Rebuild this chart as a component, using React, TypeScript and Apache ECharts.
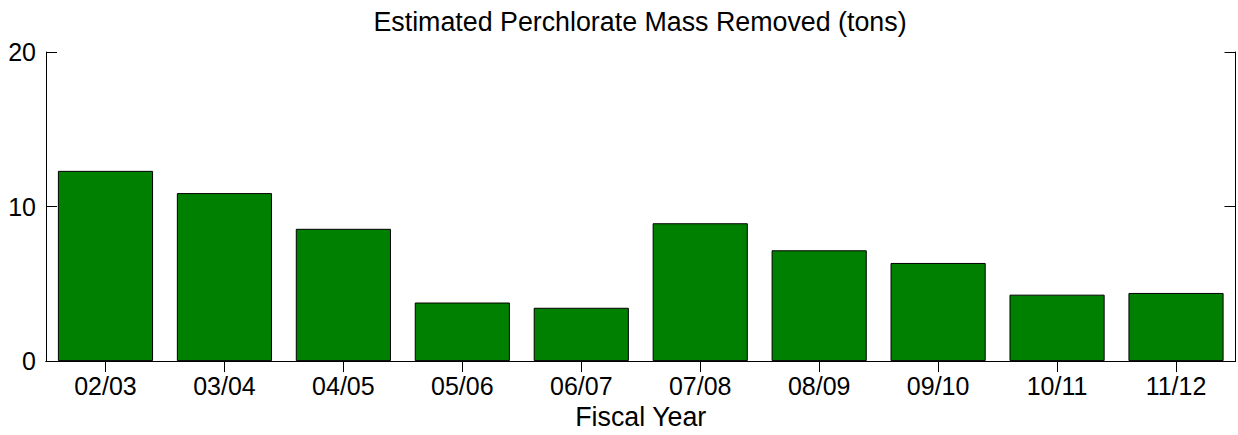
import React, { useEffect, useRef } from "react";
import * as echarts from "echarts";

const categories = ["02/03", "03/04", "04/05", "05/06", "06/07", "07/08", "08/09", "09/10", "10/11", "11/12"];
const massRemoved = [12.31, 10.87, 8.56, 3.79, 3.45, 8.92, 7.17, 6.35, 4.3, 4.41];
const titleText = "Estimated Perchlorate Mass Removed (tons)";
const xAxisName = "Fiscal Year";

const FONT = "Liberation Sans, Arial, sans-serif";

export default function App() {
  const ref = useRef<HTMLDivElement>(null);
  useEffect(() => {
    if (!ref.current) return;
    const chart = echarts.init(ref.current, null, { renderer: "svg" });
    chart.setOption({
      animation: false,
      backgroundColor: "#ffffff",
      graphic: [
        {
          type: "text",
          x: 640,
          y: 22,
          style: {
            text: titleText,
            fontFamily: FONT,
            fontSize: 26.8,
            fill: "#000",
            align: "center",
            verticalAlign: "middle",
          },
        },
      ],
      grid: { left: 46, right: 2.5, top: 52, bottom: 71.3, containLabel: false },
      xAxis: [
        {
          type: "category",
          data: categories,
          position: "bottom",
          name: xAxisName,
          nameLocation: "middle",
          nameGap: 41.5,
          nameTextStyle: { fontFamily: FONT, fontSize: 26.8, color: "#000" },
          axisLine: { show: true, lineStyle: { color: "#000", width: 1 } },
          axisTick: { show: false },
          axisLabel: { fontFamily: FONT, fontSize: 25, color: "#000", margin: 12 },
          splitLine: { show: false },
        },
        {
          type: "category",
          data: categories,
          position: "top",
          axisLine: { show: true, lineStyle: { color: "#000", width: 1 } },
          axisTick: { show: true, inside: true, length: 11, alignWithLabel: true, lineStyle: { color: "#000" } },
          axisLabel: { show: false },
          splitLine: { show: false },
        },
      ],
      yAxis: [
        {
          type: "value",
          min: 0,
          max: 20,
          interval: 10,
          position: "left",
          axisLine: { show: true, lineStyle: { color: "#000", width: 1 } },
          axisTick: { show: true, inside: true, length: 11, lineStyle: { color: "#000" } },
          axisLabel: { fontFamily: FONT, fontSize: 25, color: "#000", margin: 10 },
          splitLine: { show: false },
        },
        {
          type: "value",
          min: 0,
          max: 20,
          interval: 10,
          position: "right",
          axisLine: { show: true, lineStyle: { color: "#000", width: 1 } },
          axisTick: { show: true, inside: true, length: 11, lineStyle: { color: "#000" } },
          axisLabel: { show: false },
          splitLine: { show: false },
        },
      ],
      series: [
        {
          type: "bar",
          data: massRemoved,
          xAxisIndex: 0,
          yAxisIndex: 0,
          barCategoryGap: "20%",
          itemStyle: { color: "#008000", borderColor: "#000", borderWidth: 1 },
        },
      ],
    });
    return () => chart.dispose();
  }, []);
  return <div ref={ref} style={{ position: "fixed", left: 0, top: 0, width: 1238, height: 435 }} />;
}
